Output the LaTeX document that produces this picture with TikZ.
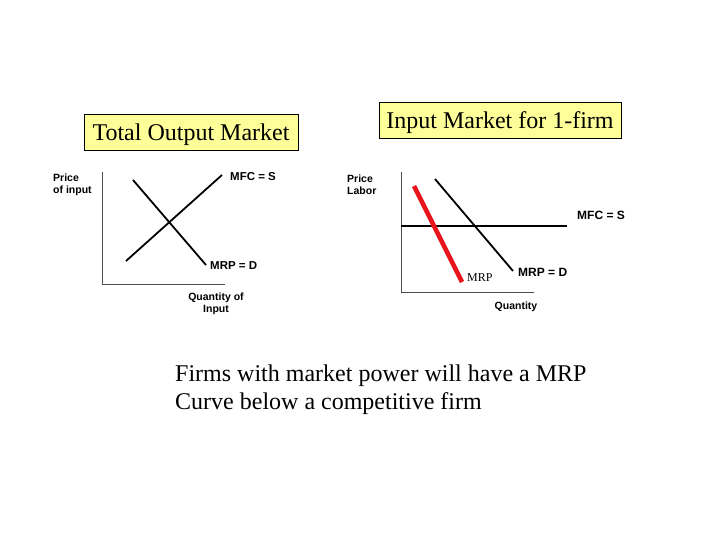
\documentclass[tikz,border=0pt]{standalone}
\usepackage{fontspec}
\setmainfont{Liberation Serif}
\setsansfont{Liberation Sans}
\usetikzlibrary{positioning}
\definecolor{titlefill}{HTML}{FFFF99}
\definecolor{mrpred}{HTML}{E8141B}

\begin{document}
\begin{tikzpicture}[
  x=1pt, y=-1pt,
  titlebox/.style={draw=black, line width=0.8pt, fill=titlefill, inner xsep=2pt, inner ysep=2pt,
                   text height=25pt, text depth=7pt, anchor=base,
                   font=\fontsize{24}{28}\selectfont},
  axis/.style={draw=black!70, line width=0.9pt},
  curve/.style={draw=black, line width=1.8pt},
  redcurve/.style={draw=mrpred, line width=4.5pt},
  axlbl/.style={font=\sffamily\bfseries\fontsize{10.5}{12}\selectfont, align=left, inner sep=0pt},
  crvlbl/.style={font=\sffamily\bfseries\fontsize{11.5}{13}\selectfont, inner sep=0pt},
]
\useasboundingbox (0,0) rectangle (720,540);

% ---- titles ----
\node[titlebox, minimum width=214pt] (ttot) at (191,141) {Total Output Market};
\node[titlebox, minimum width=242pt] (tfirm) at (500,129) {Input Market for 1-firm};

% ---- left graph: total market ----
\coordinate (lo) at (102,284);
\draw[axis] (102,172) -- (lo) -- (225,284);
\draw[curve] (126,261) -- (222,175);
\draw[curve] (133,180) -- (206,265);
\node[axlbl, anchor=west] (lpy) at (53,185) {Price\\of input};
\node[axlbl, align=center] (lqx) at (216,304) {Quantity of\\Input};
\node[crvlbl, anchor=west] (lmfc) at (230,177) {MFC = S};
\node[crvlbl, anchor=west] (lmrp) at (210,266) {MRP = D};

% ---- right graph: single firm ----
\coordinate (ro) at (401,292);
\draw[axis] (401,172) -- (ro) -- (534,292);
\draw[curve] (401,226) -- (567,226);
\draw[curve] (435,179) -- (513,271);
\draw[redcurve] (414,186) -- (462,282);
\node[axlbl, anchor=west] (rpy) at (347,185) {Price\\Labor};
\node[axlbl] (rqx) at (516,307) {Quantity};
\node[crvlbl, font=\sffamily\bfseries\fontsize{12}{14}\selectfont, anchor=west] (rmfc) at (577,215) {MFC = S};
\node[crvlbl, font=\sffamily\bfseries\fontsize{12}{14}\selectfont, anchor=west] (rmrp) at (518,272) {MRP = D};
\node[font=\fontsize{12}{14}\selectfont, anchor=west, inner sep=0pt] (rred) at (467,278) {MRP};

% ---- note (base = last line) ----
\node[anchor=base west, align=left, inner sep=0pt,
      font=\fontsize{24}{28.5}\selectfont] (note) at (175,409.5)
      {Firms with market power will have a MRP\\Curve below a competitive firm};
\end{tikzpicture}
\end{document}
